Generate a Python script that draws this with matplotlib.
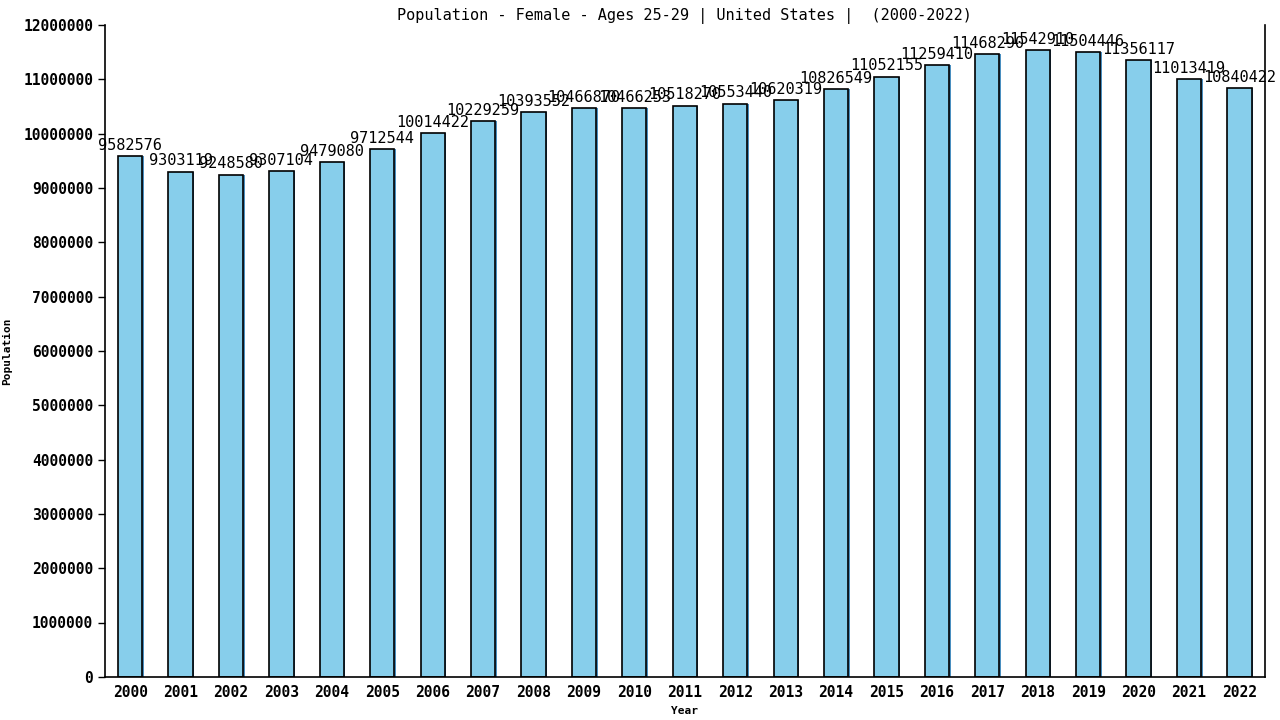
import numpy as np
import matplotlib
matplotlib.use("Agg")
import matplotlib.pyplot as plt

# population values
years = list(range(2000, 2023))
population = [9582576, 9303119, 9248580, 9307104, 9479080, 9712544, 10014422,
              10229259, 10393552, 10466870, 10466253, 10518270, 10553440,
              10620319, 10826549, 11052155, 11259410, 11468290, 11542910,
              11504446, 11356117, 11013419, 10840422]

plt.rcParams['font.family'] = ['DejaVu Sans Mono']

fig = plt.figure(figsize=(12.8, 7.2), dpi=100)
ax = fig.add_axes([0.082, 0.06, 0.906, 0.905])

x = np.arange(len(years))
# slight blue shadow to the right, then the outlined bar
ax.bar(x + 0.03, population, width=0.48, color='#4a8fc0', zorder=1)
ax.bar(x, population, width=0.48, color='#87ceeb', edgecolor='black', linewidth=1.2, zorder=2)

for xi, v in zip(x, population):
    ax.text(xi, v + 60000, str(v), ha='center', va='bottom', fontsize=11, zorder=3)

ax.set_xlim(-0.5, 22.5)
ax.set_ylim(0, 12000000)
ax.set_yticks(np.arange(0, 12000001, 1000000))
ax.set_yticklabels([str(t) for t in range(0, 12000001, 1000000)], fontsize=10.5, fontweight='bold')
ax.set_xticks(x)
ax.set_xticklabels([str(y) for y in years], fontsize=10.5, fontweight='bold')
ax.tick_params(axis='x', length=0, pad=6)
ax.tick_params(axis='y', length=5, width=1)

ax.spines['top'].set_visible(False)
for s in ['left', 'right', 'bottom']:
    ax.spines[s].set_linewidth(1.2)

ax.set_title("Population - Female - Ages 25-29 | United States |  (2000-2022)", fontsize=11, pad=4)
ax.set_ylabel("Population", fontsize=8, fontweight='bold', labelpad=8)
ax.set_xlabel("Year", fontsize=8, fontweight='bold', labelpad=4)

fig.savefig("out.png", dpi=100)
